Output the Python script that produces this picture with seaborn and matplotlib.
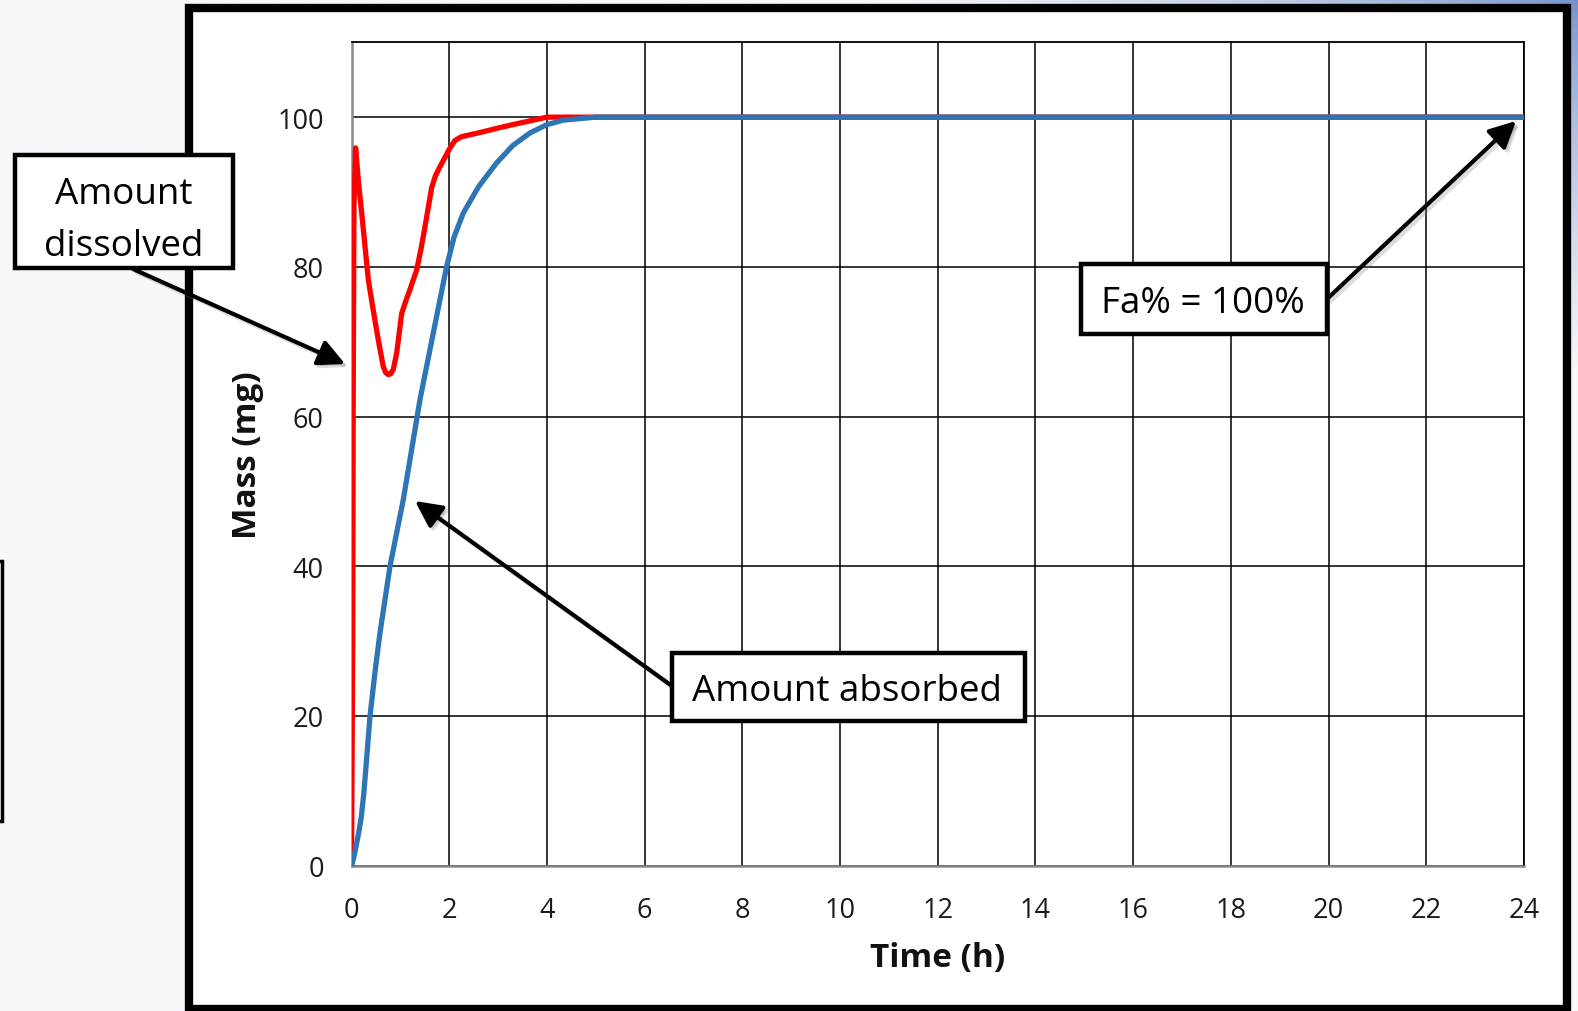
import numpy as np
import matplotlib
matplotlib.use("Agg")
import matplotlib.pyplot as plt
import seaborn as sns
from matplotlib.patches import Rectangle, FancyArrowPatch

# ---------------- data ----------------
time_dissolved = [0, 0.025, 0.035, 0.05, 0.084, 0.14, 0.209, 0.28, 0.344, 0.45, 0.547,
                  0.649, 0.7, 0.753, 0.80, 0.856, 0.925, 1.028, 1.12, 1.198, 1.335,
                  1.42, 1.505, 1.642, 1.72, 1.812, 1.92, 2.017, 2.12, 2.256, 2.6,
                  2.972, 3.3, 3.654, 4.0, 5, 6, 8, 10, 12, 14, 16, 18, 20, 22, 24]
mass_dissolved = [0, 30, 62, 88, 95.9, 91.5, 87.2, 82.5, 78.3, 74.0, 70.3,
                  66.7, 65.9, 65.6, 65.7, 66.3, 68.5, 73.8, 75.6, 77.0, 79.6,
                  82.3, 85.4, 90.6, 92.2, 93.4, 94.7, 95.9, 96.9, 97.4, 97.9,
                  98.5, 99.0, 99.5, 100, 100, 100, 100, 100, 100, 100, 100, 100, 100, 100, 100]

time_absorbed = [0, 0.05, 0.1, 0.15, 0.2, 0.25, 0.3, 0.379, 0.48, 0.583, 0.788,
                 1.060, 1.403, 1.675, 1.949, 2.1, 2.289, 2.6, 2.972, 3.3, 3.654,
                 4.0, 4.336, 5, 6, 8, 10, 12, 14, 16, 18, 20, 22, 24]
mass_absorbed = [0, 1.2, 2.8, 4.5, 6.5, 9.5, 13.5, 20.0, 25.8, 31.1, 40.0,
                 48.9, 62.3, 71.2, 80.1, 84.0, 87.2, 90.7, 93.9, 96.2, 97.9,
                 99.0, 99.6, 100, 100, 100, 100, 100, 100, 100, 100, 100, 100, 100]

x_ticks = list(range(0, 25, 2))
y_ticks = list(range(0, 101, 20))
x_label = "Time (h)"
y_label = "Mass (mg)"
callout_dissolved = ["Amount", "dissolved"]
callout_absorbed = "Amount absorbed"
callout_fa = "Fa% = 100%"

# ---------------- style ----------------
sns.set_style("white")
plt.rcParams['font.family'] = ['Open Sans', 'DejaVu Sans']

W, H = 1578, 1012
fig = plt.figure(figsize=(W / 100, H / 100), dpi=100)


def fx(x):
    return x / W


def fy(y):
    return 1 - y / H


# background gradient (decorative)
yy, xx = np.mgrid[0:H:4, 0:W:4]
d = np.sqrt(((W - xx) / W) ** 2 * 1.6 + (yy / H) ** 2 * 2.2)
t = np.clip(d / 0.55, 0, 1) ** 0.7
blue = np.array([110, 145, 200]) / 255
light = np.array([247, 248, 251]) / 255
img = blue[None, None, :] * (1 - t[..., None]) + light[None, None, :] * t[..., None]
bg = fig.add_axes([0, 0, 1, 1], zorder=-10)
bg.imshow(img, extent=[0, 1, 0, 1], aspect='auto', interpolation='bilinear')
bg.set_axis_off()

# left partial box edge
fig.add_artist(Rectangle((fx(-10), fy(822)), fx(12), (822 - 562) / H,
                         transform=fig.transFigure, facecolor='white',
                         edgecolor='black', lw=2.5, zorder=-6))

# white panel with thick black border
fig.add_artist(Rectangle((fx(189), fy(1010)), (1567 - 189) / W, (1010 - 9) / H,
                         transform=fig.transFigure, facecolor='white',
                         edgecolor='black', lw=6, zorder=-5))

# ---------------- main axes ----------------
L, R, T, B = 351.5, 1524, 43.3, 866.7
ax = fig.add_axes([fx(L), fy(B), (R - L) / W, (B - T) / H], zorder=0)
ax.set_facecolor('white')

sns.lineplot(x=time_dissolved, y=mass_dissolved, color='#FF0000', lw=3.8,
             sort=False, estimator=None, ax=ax, zorder=3)
sns.lineplot(x=time_absorbed, y=mass_absorbed, color='#2E75B6', lw=3.8,
             sort=False, estimator=None, ax=ax, zorder=4)
for ln in ax.lines:
    ln.set_solid_joinstyle('round')
    ln.set_solid_capstyle('round')

ax.set_xlim(0, 24)
ax.set_ylim(0, 110)
ax.set_xticks(x_ticks)
ax.set_yticks(y_ticks)
ax.set_xticklabels([str(v) for v in x_ticks])
ax.set_yticklabels([str(v) for v in y_ticks])
ax.grid(True, color='black', lw=1.1)
ax.set_axisbelow(True)
ax.tick_params(axis='both', length=0, labelsize=19.5, colors='#1a1a1a')
ax.tick_params(axis='x', pad=22)
ax.tick_params(axis='y', pad=20)
for s in ['top', 'right']:
    ax.spines[s].set_color('black')
    ax.spines[s].set_linewidth(1.3)
for s in ['left', 'bottom']:
    ax.spines[s].set_color('#8a8a8a')
    ax.spines[s].set_linewidth(1.8)

ax.set_xlabel(x_label, fontsize=24, fontweight='bold', color='#111111')
ax.set_ylabel(y_label, fontsize=24, fontweight='bold', color='#111111')
ax.xaxis.set_label_coords((938 - L) / (R - L), (B - 959) / (B - T))
ax.xaxis.label.set_va('center')
ax.yaxis.set_label_coords((248 - L) / (R - L), (B - 455) / (B - T))
ax.yaxis.label.set_va('center')
ax.yaxis.label.set_ha('center')


# ---------------- callouts ----------------
def box(x0, y0, x1, y1):
    fig.add_artist(Rectangle((fx(x0), fy(y1)), (x1 - x0) / W, (y1 - y0) / H,
                             transform=fig.transFigure, facecolor='white',
                             edgecolor='black', lw=3.2, zorder=6))


def arrow(x0, y0, x1, y1):
    for off, col, a, z in [(3, '#777777', 0.25, 5), (0, 'black', 1.0, 5.5)]:
        fig.add_artist(FancyArrowPatch((fx(x0 + off), fy(y0 + off)),
                                       (fx(x1 + off), fy(y1 + off)),
                                       transform=fig.transFigure,
                                       arrowstyle='-|>,head_length=0.8,head_width=0.4',
                                       mutation_scale=20, lw=3.0, color=col,
                                       alpha=a, shrinkA=0, shrinkB=0, zorder=z))


arrow(133, 270, 345, 365)
arrow(672, 687, 415, 502)
arrow(1327, 300, 1516, 122)

box(15, 156, 233, 269)
fig.text(fx(124), fy(204), callout_dissolved[0], ha='center', va='baseline',
         fontsize=26.5, color='black', zorder=7)
fig.text(fx(124), fy(256), callout_dissolved[1], ha='center', va='baseline',
         fontsize=26.5, color='black', zorder=7)

box(672, 654, 1025, 722)
fig.text(fx(847), fy(701), callout_absorbed, ha='center', va='baseline',
         fontsize=26.5, color='black', zorder=7)

box(1081, 265, 1327, 335)
fig.text(fx(1203), fy(313), callout_fa, ha='center', va='baseline',
         fontsize=26.5, color='black', zorder=7)

fig.savefig("out.png", dpi=100)
